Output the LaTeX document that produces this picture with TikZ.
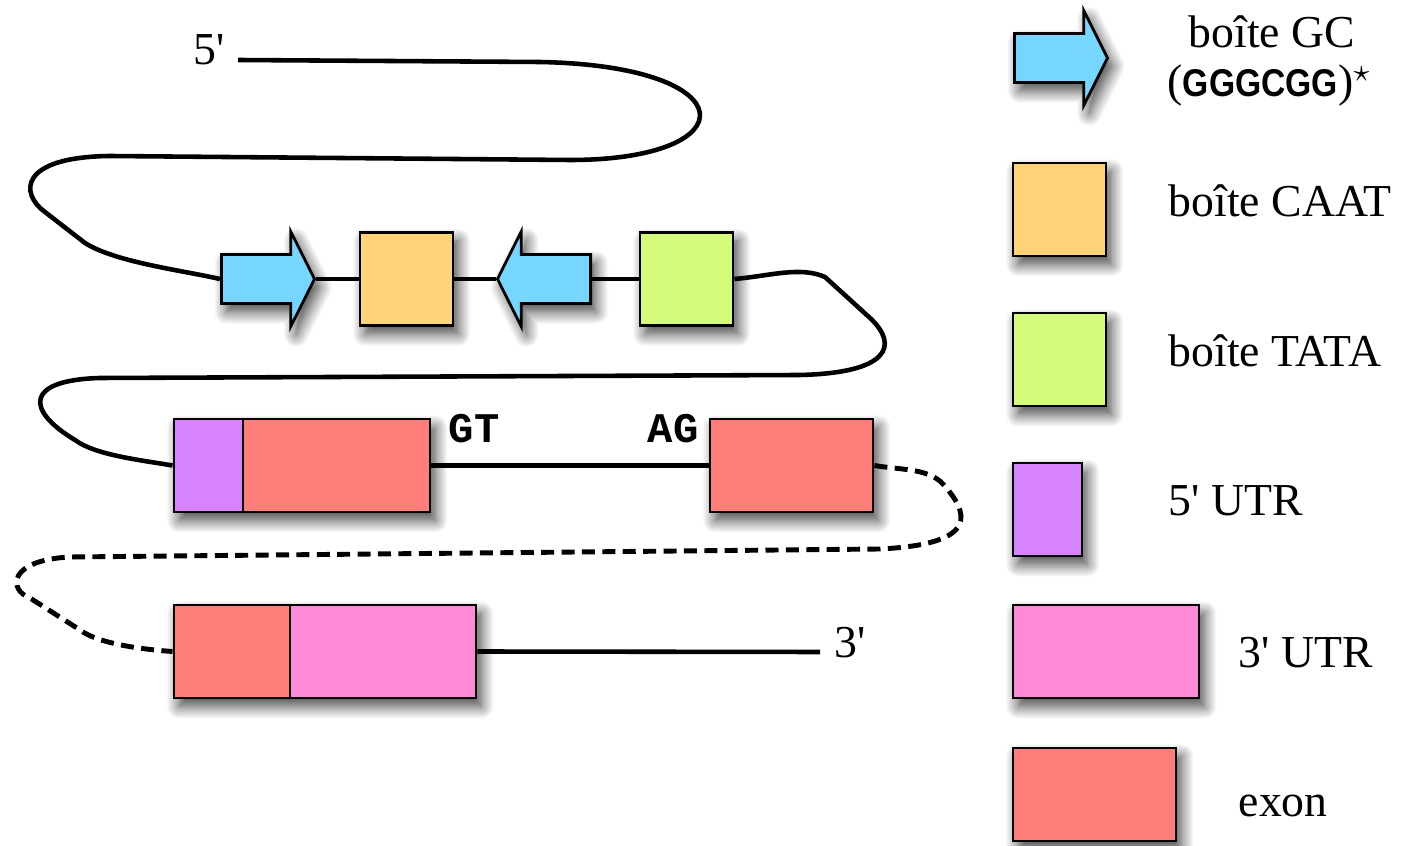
\documentclass[tikz,border=0pt]{standalone}
\usepackage{fontspec}
\setmainfont{Liberation Serif}[Ligatures=TeXOff]
\newfontfamily\codefont{Liberation Mono}
\newfontfamily\seqfont{Liberation Sans}
\usetikzlibrary{shapes.arrows,shadows.blur}
\definecolor{sky}{HTML}{76D6FF}
\definecolor{cantaloupe}{HTML}{FFD479}
\definecolor{honeydew}{HTML}{D4FB79}
\definecolor{lavender}{HTML}{D783FF}
\definecolor{salmon}{HTML}{FF7E79}
\definecolor{carnation}{HTML}{FF8AD8}
\tikzset{
  shad/.style={blur shadow={shadow xshift=1.5pt, shadow yshift=-2.4pt, shadow blur radius=3.6pt, shadow blur steps=14, shadow opacity=75}},
  flatbox/.style={draw=black, line width=0.8pt, inner sep=0pt, minimum height=0.93cm},
  box/.style={shad, flatbox},
  gcarrow/.style={shad, single arrow, draw=black, line width=0.8pt, fill=sky,
     inner xsep=0pt, inner ysep=0.23cm, minimum width=0pt, minimum height=0.93cm,
     single arrow head extend=0.23cm, single arrow tip angle=127, single arrow head indent=0pt},
  dna/.style={line width=1.3pt, line join=round},
  dnadash/.style={line width=1.4pt, dash pattern=on 3.7pt off 2.1pt},
  lbl/.style={inner sep=0pt, font=\fontsize{13}{15}\selectfont},
  code/.style={inner sep=0pt, font=\codefont\bfseries\fontsize{12}{14}\selectfont},
}
\begin{document}
\begin{tikzpicture}[x=0.01cm,y=-0.01cm]
\useasboundingbox (0,0) rectangle (1405,846);

% ---- promoter row ----
\node[gcarrow, anchor=tail] (gc1) at (220,279) {};
\node[box, fill=cantaloupe, minimum width=0.93cm] (caat) at (406.5,279) {};
\node[gcarrow, shape border rotate=180, anchor=tail] (gc2) at (592,279) {};
\node[box, fill=honeydew, minimum width=0.93cm] (tata) at (686.5,279) {};

% ---- exon row 1 (one shadow for the joined pair) ----
\path[shad] (174,419) rectangle (430,512);
\node[flatbox, fill=lavender, minimum width=0.69cm] (utr5) at (208.5,465.5) {};
\node[flatbox, fill=salmon, minimum width=1.87cm] (ex1) at (336.5,465.5) {};
\node[box, fill=salmon, minimum width=1.63cm] (ex2) at (791.5,465.5) {};
\node[code, anchor=base west] (gt) at (448,443) {GT};
\node[code, anchor=base west] (ag) at (647,443) {AG};

% ---- exon row 2 ----
\path[shad] (174,605) rectangle (476,698);
\node[flatbox, fill=salmon, minimum width=1.16cm] (ex3) at (232,651.5) {};
\node[flatbox, fill=carnation, minimum width=1.86cm] (utr3) at (383,651.5) {};

% ---- ends ----
\node[lbl, anchor=base west] (p5) at (193,65) {5'};
\coordinate (c5) at (238,60);
\node[lbl, anchor=base west] (p3) at (834,658) {3'};
\coordinate (c3) at (820,652);

% ---- connectors ----
\draw[dna] (c5) -- (540,62) .. controls (748,66) and (748,160) .. (570,160)
   -- (110,156) .. controls (18,157) and (20,194) .. (45,212)
   -- (85,243) .. controls (115,262) and (180,270) .. (gc1.tail);
\draw[dna] (gc1.tip) -- (caat.west);
\draw[dna] (caat.east) -- (gc2.tip);
\draw[dna] (gc2.tail) -- (tata.west);
\draw[dna] (tata.east) .. controls (770,276) and (800,266) .. (825,277)
   -- (870,318) .. controls (900,346) and (888,373) .. (800,375)
   -- (100,378) .. controls (25,380) and (25,410) .. (75,440)
   .. controls (95,455) and (140,460) .. (utr5.west);
\draw[dna] (ex1.east) -- (ex2.west);
\draw[dnadash] (ex2.east) .. controls (900,470) and (928,468) .. (943,484)
   .. controls (968,512) and (982,544) .. (880,549)
   -- (70,557) .. controls (8,560) and (8,590) .. (30,598)
   -- (80,630) .. controls (100,645) and (150,650) .. (ex3.west);
\draw[dna] (utr3.east) -- (c3);

% ---- legend ----
\node[gcarrow, anchor=tail] (lgc) at (1013,58) {};
\node[lbl, anchor=base] (tgc1) at (1272,48) {boîte GC};
\node[lbl, anchor=base west] (tgc2) at (1167,97) {(\scalebox{0.87}[1]{\seqfont\bfseries\fontsize{11}{12}\selectfont GGGCGG})$^{\star}$};

\node[box, fill=cantaloupe, minimum width=0.93cm] (lcaat) at (1059.5,209.5) {};
\node[lbl, anchor=base west] (tcaat) at (1168,217) {boîte CAAT};

\node[box, fill=honeydew, minimum width=0.93cm] (ltata) at (1059.5,359.5) {};
\node[lbl, anchor=base west] (ttata) at (1168,367) {boîte TATA};

\node[box, fill=lavender, minimum width=0.69cm] (lutr5) at (1047.5,509.5) {};
\node[lbl, anchor=base west] (tutr5) at (1168,516) {5' UTR};

\node[box, fill=carnation, minimum width=1.86cm] (lutr3) at (1106,651.5) {};
\node[lbl, anchor=base west] (tutr3) at (1238,668) {3' UTR};

\node[box, fill=salmon, minimum width=1.63cm] (lexon) at (1094.5,794.5) {};
\node[lbl, anchor=base west] (texon) at (1238,817) {exon};
\end{tikzpicture}
\end{document}
